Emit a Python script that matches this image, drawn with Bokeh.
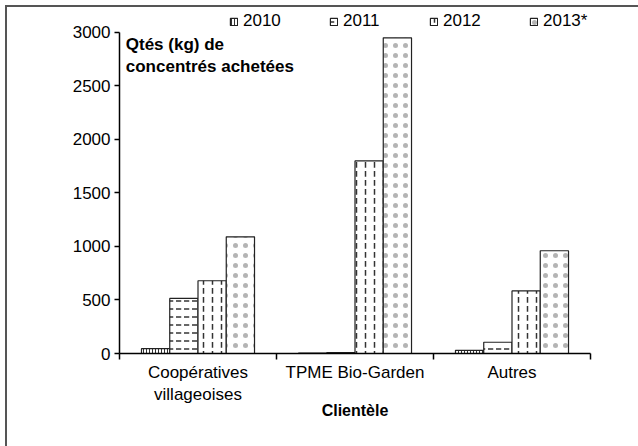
from bokeh.plotting import figure
from bokeh.models import (ColumnDataSource, Range1d, FixedTicker, LinearAxis,
                          Legend, LegendItem, Label)
from bokeh.transform import dodge
from bokeh.embed import file_html
from bokeh.resources import INLINE

# ---- data ----
categories = ["Coopératives\nvillageoises", "TPME Bio-Garden", "Autres"]
years = ["2010", "2011", "2012", "2013*"]
v2010 = [45, 3, 30]
v2011 = [515, 8, 105]
v2012 = [680, 1800, 585]
v2013 = [1090, 2950, 960]
y_ticks = [0, 500, 1000, 1500, 2000, 2500, 3000]
y_title = ["Qtés (kg) de", "concentrés achetées"]
x_title = "Clientèle"

FONT = "Liberation Sans"
FS = "17px"

src = ColumnDataSource(dict(
    x=[i + 0.5 for i in range(len(categories))],
    v2010=v2010, v2011=v2011, v2012=v2012, v2013=v2013,
))

# frame spans from the legend row down to the zero line; the y axis itself stops at 3000
p = figure(width=638, height=446, output_backend="svg", toolbar_location=None,
           x_range=Range1d(0, 3), y_range=Range1d(0, 3224),
           x_axis_type=None, y_axis_type=None,
           min_border_left=119, min_border_right=48,
           min_border_top=8, min_border_bottom=93)
p.styles = {"box-shadow": "inset 5px 5px 0 0 white, inset 7px 7px 0 0 #555"}
p.outline_line_color = None
p.background_fill_color = "white"
p.border_fill_alpha = 0

styles = [
    ("v2010", -0.27, "vertical_line", 3, 1.0, "#333", 1.0),
    ("v2011", -0.09, "horizontal_dash", 8, 1.5, "#333", 1.0),
    ("v2012", 0.09, "vertical_dash", 9, 1.5, "#333", 1.0),
    ("v2013", 0.27, "dot", 10, 0.6, "#777", 0.55),
]
renderers = []
for col, off, pat, sc, wt, hc, ha in styles:
    r = p.vbar(x=dodge("x", off, range=p.x_range), top=col, width=0.18, source=src,
               fill_color="white", line_color="#222", line_width=1.2,
               hatch_pattern=pat, hatch_scale=sc, hatch_color=hc, hatch_weight=wt,
               hatch_alpha=ha)
    renderers.append(r)

yaxis = LinearAxis(ticker=FixedTicker(ticks=y_ticks), bounds=(0, 3000),
                   major_tick_out=5, major_tick_in=0, minor_tick_out=0, minor_tick_in=0,
                   axis_line_width=1.5, axis_line_color="black",
                   major_tick_line_width=1.5, major_tick_line_color="black",
                   major_label_text_font=FONT, major_label_text_font_size=FS,
                   major_label_text_color="black", major_label_standoff=4)
p.add_layout(yaxis, "left")

xaxis = LinearAxis(ticker=FixedTicker(ticks=[0.5, 1.5, 2.5], minor_ticks=[0, 1, 2, 3]),
                   major_tick_out=0, major_tick_in=0, minor_tick_out=6, minor_tick_in=0,
                   minor_tick_line_width=1.5, minor_tick_line_color="black",
                   axis_line_width=1.5, axis_line_color="black",
                   major_label_overrides={0.5: categories[0], 1.5: categories[1], 2.5: categories[2]},
                   major_label_text_font=FONT, major_label_text_font_size=FS,
                   major_label_text_color="black", major_label_standoff=3,
                   axis_label=x_title, axis_label_text_font=FONT,
                   axis_label_text_font_size="16px", axis_label_text_font_style="bold",
                   axis_label_text_color="black", axis_label_standoff=-5)
p.add_layout(xaxis, "below")

legend = Legend(items=[LegendItem(label=y, renderers=[r]) for y, r in zip(years, renderers)],
                orientation="horizontal", location=(110, 322),
                glyph_width=9, glyph_height=9, label_standoff=5, label_width=86,
                spacing=0, padding=0, margin=0,
                border_line_color=None, background_fill_alpha=0,
                label_text_font=FONT, label_text_font_size=FS,
                label_text_color="black")
p.add_layout(legend)

for txt, yv in zip(y_title, [2888, 2682]):
    p.add_layout(Label(x=0.04, y=yv, text=txt, text_font=FONT, text_font_size=FS,
                       text_font_style="bold", text_baseline="alphabetic", text_color="black"))

open("out.html", "w").write(file_html(p, INLINE))
